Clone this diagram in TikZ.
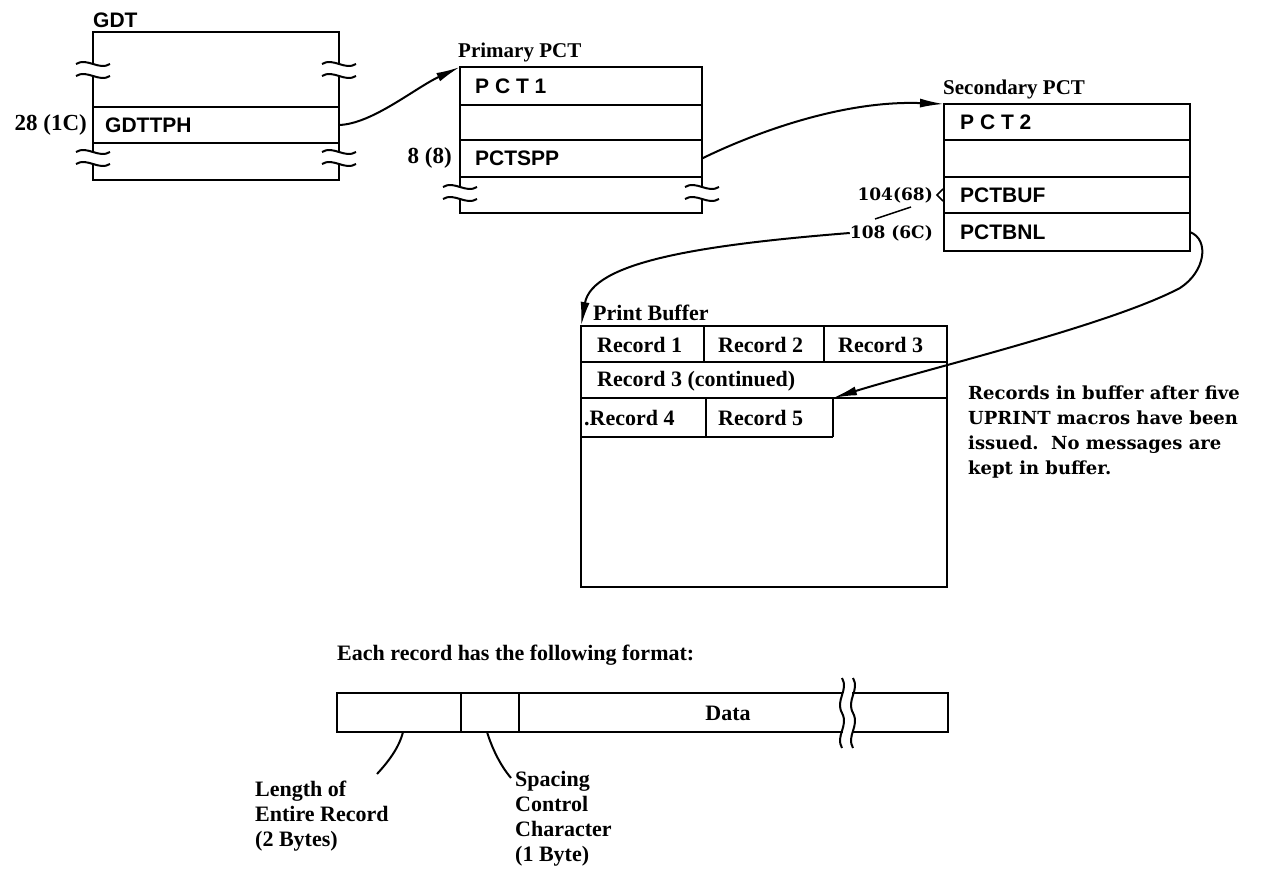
\documentclass[tikz,border=0pt]{standalone}
\usepackage{fontspec}
\setmainfont{Liberation Serif}
\newfontfamily\lsans{Liberation Sans}
\newfontfamily\dvs{DejaVu Serif}
\usetikzlibrary{arrows.meta}
\begin{document}
\begin{tikzpicture}[x=1pt,y=-1pt,
  boxline/.style={line width=2.8pt, line join=miter},
  rowline/.style={line width=2pt},
  conn/.style={line width=2pt},
  arr/.style={conn,-{Latex[length=24pt,width=9pt]}},
  rowarea/.style={draw=none, inner sep=0pt, outer sep=0pt, anchor=north west},
  fld/.style={font=\lsans\bfseries\fontsize{21}{24}\selectfont, anchor=west, inner sep=0pt},
  rec/.style={font=\bfseries\fontsize{22}{25}\selectfont, anchor=west, inner sep=0pt},
  offlbl/.style={font=\bfseries\fontsize{23}{25}\selectfont, anchor=east, inner sep=0pt},
  hexlbl/.style={font=\dvs\bfseries\fontsize{17}{20}\selectfont, anchor=east, inner sep=0pt},
  ttl/.style={font=\bfseries\fontsize{21}{24}\selectfont, anchor=south west, inner sep=0pt},
  notetext/.style={font=\dvs\bfseries\fontsize{18}{25}\selectfont, align=left, anchor=north west, inner sep=0pt},
  captext/.style={font=\bfseries\fontsize{22}{25}\selectfont, align=left, anchor=north west, inner sep=0pt},
  brkv/.pic={
    \fill[white] (-4,-6) rectangle (4,6);
    \draw[line width=2pt] (-17,-6) .. controls (-6,-13) and (6,1) .. (17,-6);
    \draw[line width=2pt] (-17,6) .. controls (-6,-1) and (6,13) .. (17,6);
  }
]
\useasboundingbox (0,0) rectangle (1265,874);

% ---------------- GDT ----------------
\node[ttl, font=\lsans\bfseries\fontsize{21}{24}\selectfont] (gdtlbl) at (93,28) {GDT};
\node[rowarea, minimum width=246pt, minimum height=148pt] (gdt) at (93,32) {};
\draw[boxline] (93,32) rectangle (339,180);
\draw[rowline] (93,107) -- (339,107) (93,143) -- (339,143);
\pic at (93,70) {brkv};
\pic at (339,70) {brkv};
\pic at (93,158) {brkv};
\pic at (339,158) {brkv};
\node[rowarea, minimum width=246pt, minimum height=36pt] (gdtph) at (93,107) {};
\node[fld] (tgdtph) at (105,125) {GDTTPH};
\node[offlbl] (o28) at (87,125) {28 (1C)};

% ---------------- Primary PCT ----------------
\node[ttl] (prilbl) at (458,62) {Primary PCT};
\node[rowarea, minimum width=242pt, minimum height=146pt] (pri) at (460,67) {};
\draw[boxline] (460,67) rectangle (702,213);
\draw[rowline] (460,105) -- (702,105) (460,140) -- (702,140) (460,177) -- (702,177);
\pic at (460,193) {brkv};
\pic at (702,193) {brkv};
\node[fld] (pct1) at (475,86) {P C T 1};
\node[rowarea, minimum width=242pt, minimum height=37pt] (pspp) at (460,140) {};
\node[fld] (tspp) at (475,158) {PCTSPP};
\node[offlbl] (o8) at (452,158) {8 (8)};

% ---------------- Secondary PCT ----------------
\node[ttl] (seclbl) at (943,99) {Secondary PCT};
\node[rowarea, minimum width=246pt, minimum height=147pt] (sec) at (944,104) {};
\draw[boxline] (944,104) rectangle (1190,251);
\draw[rowline] (944,140) -- (1190,140) (944,177) -- (1190,177) (944,213) -- (1190,213);
\node[fld] (pct2) at (960,122) {P C T 2};
\node[fld] (tbuf) at (960,195) {PCTBUF};
\node[rowarea, minimum width=246pt, minimum height=38pt] (pbnl) at (944,213) {};
\node[fld] (tbnl) at (960,232) {PCTBNL};
\node[hexlbl] (l104) at (933,195) {104(68)};
\node[hexlbl] (l108) at (933,233) {108 (6C)};
\coordinate (tickA) at (943,189);
\coordinate (tickB) at (943,201);
\draw[line width=1.5pt] (tickA) -- (937,195) -- (tickB);
\coordinate (slA) at (875,219);
\coordinate (slB) at (911,207);
\draw[line width=1.5pt] (slA) -- (slB);

% ---------------- Print Buffer ----------------
\node[rec, font=\bfseries\fontsize{22}{25}\selectfont] (pblbl) at (593,313) {Print Buffer};
\node[rowarea, minimum width=366pt, minimum height=261pt] (pb) at (581,326) {};
\draw[boxline] (581,326) rectangle (947,587);
\draw[rowline] (581,362) -- (947,362) (581,398) -- (947,398)
  (704,326) -- (704,362) (824,326) -- (824,362)
  (706,398) -- (706,437) (833,398) -- (833,437) (581,437) -- (833,437);
\node[rec] (r1) at (597,345) {Record 1};
\node[rec] (r2) at (718,345) {Record 2};
\node[rec] (r3) at (838,345) {Record 3};
\node[rec] (r3c) at (597,381) {Record 3 (continued)};
\node[rec] (r4) at (584,418) {.Record 4};
\node[rowarea, minimum width=127pt, minimum height=39pt] (r5) at (706,398) {};
\node[rec] (r5t) at (718,418) {Record 5};

\node[notetext] (note) at (968,386) {Records in buffer after five\\UPRINT macros have been\\issued.\ \ No messages are\\kept in buffer.};

% ---------------- Connectors ----------------
\draw[arr] (gdtph.east) .. controls (372,124) and (415,88) .. (pri.north west);
\draw[arr] (pspp.east) .. controls (750,135) and (840,100) .. (sec.north west);
\draw[arr] (l108.west) .. controls (700,245) and (592,262) .. (pb.north west);
\draw[arr] (pbnl.east) .. controls (1210,240) and (1205,272) .. (1180,288)
  .. controls (1110,325) and (930,368) .. (r5.north east);

% ---------------- Record format ----------------
\node[captext, anchor=west] (each) at (337,655) {Each record has the following format:};
\node[rowarea, minimum width=124pt, minimum height=39pt] (lencell) at (337,693) {};
\node[rowarea, minimum width=58pt, minimum height=39pt] (spccell) at (461,693) {};
\draw[boxline] (337,693) rectangle (948,732);
\draw[rowline] (461,693) -- (461,732) (519,693) -- (519,732);
\fill[white] (843,688) rectangle (852,737);
\draw[rowline] (842,678) .. controls (849,690) and (835,700) .. (842,713) .. controls (849,726) and (835,736) .. (842,748);
\draw[rowline] (853,678) .. controls (860,690) and (846,700) .. (853,713) .. controls (860,726) and (846,736) .. (853,748);
\node[rec, anchor=center] (data) at (728,713) {Data};
\node[captext] (lentxt) at (255,781) {Length of\\Entire Record\\(2 Bytes)};
\node[captext] (spctxt) at (515,771) {Spacing\\Control\\Character\\(1 Byte)};
\coordinate (lenend) at (377,774);
\coordinate (spcend) at (511,778);
\draw[conn] ([xshift=4pt]lencell.south) .. controls (399,748) and (388,762) .. (lenend);
\draw[conn] ([xshift=-3pt]spccell.south) .. controls (492,748) and (500,765) .. (spcend);
\end{tikzpicture}
\end{document}
